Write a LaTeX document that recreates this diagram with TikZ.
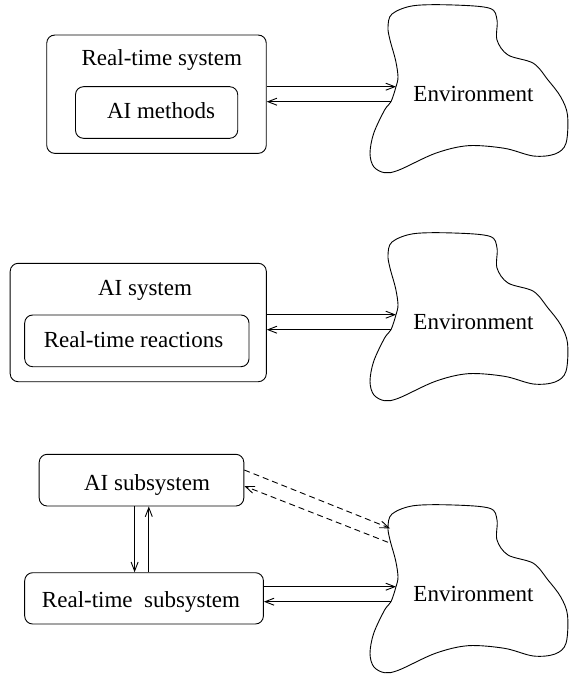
\documentclass[tikz,border=0pt]{standalone}
\usepackage{fontspec}
\setmainfont{Liberation Serif}
\usetikzlibrary{arrows.meta}

\tikzset{
  box/.style={draw, rounded corners=8bp, line width=0.9bp, inner sep=0pt},
  lbl/.style={anchor=base, inner sep=0pt, font=\fontsize{23bp}{28bp}\selectfont},
  flow/.style={line width=0.9bp, -{Straight Barb[length=9bp,width=7bp]}},
  dflow/.style={flow, dash pattern=on 6bp off 4bp},
  cloudline/.style={line width=0.9bp},
}

% outline of the environment blob, drawn in the frame of the top panel
\newcommand{\envblob}{%
  \draw[cloudline] plot[smooth cycle, tension=0.55] coordinates {
    (388,27) (392,14) (413.6,5.7) (453.6,5) (489.8,8.3) (497,20) (497,40)
    (508,55) (533.4,63.3) (548,80) (560.6,96.7) (567.5,115) (566,143.3)
    (555,154) (533.4,156) (504.4,148.3) (468,145.7) (435.4,153.3) (399,170)
    (384.6,172.7) (373.7,166.7) (370,153.3) (373.7,133.3) (384.6,110)
    (391,101.7) (396,86.7) (398,76.7) (395.5,60) (390,40)};
}

\begin{document}
\begin{tikzpicture}[x=1bp, y=-1bp]
  \useasboundingbox (0,0) rectangle (569,675);

  % ---- panel 1: real-time system hosting AI methods
  \envblob
  \node[lbl] (env1) at (473.5,101.7) {Environment};
  \coordinate (e1in) at (396,86.7);
  \coordinate (e1out) at (391,101.7);
  \node[box, minimum width=219.5bp, minimum height=118.3bp] (outer1) at (156.5,94.2) {};
  \node[box, minimum width=162.2bp, minimum height=51.6bp] (inner1) at (156.6,112.5) {};
  \node[lbl] (t1) at (161.8,65.7) {Real-time system};
  \node[lbl] (t1b) at (161,119) {AI methods};
  \draw[flow] (outer1.east |- e1in) -- (e1in);
  \draw[flow] (e1out) -- (outer1.east |- e1out);

  % ---- panel 2: AI system hosting real-time reactions
  \begin{scope}[shift={(0,228)}]
    \envblob
  \end{scope}
  \node[lbl] (env2) at (473.5,329.7) {Environment};
  \coordinate (e2in) at (396,314.7);
  \coordinate (e2out) at (391,329.7);
  \node[box, minimum width=256.1bp, minimum height=118.4bp] (outer2) at (138.25,322.5) {};
  \node[box, minimum width=224.3bp, minimum height=51.7bp] (inner2) at (136.85,340.85) {};
  \node[lbl] (t2) at (145,295.7) {AI system};
  \node[lbl] (t2b) at (133.5,347.3) {Real-time reactions};
  \draw[flow] (outer2.east |- e2in) -- (e2in);
  \draw[flow] (e2out) -- (outer2.east |- e2out);

  % ---- panel 3: separate AI and real-time subsystems
  \begin{scope}[shift={(0,500)}]
    \envblob
  \end{scope}
  \node[lbl] (env3) at (473.5,601.7) {Environment};
  \coordinate (e3in) at (396,586.7);
  \coordinate (e3out) at (391,601.7);
  \coordinate (e3din) at (390,528.3);
  \coordinate (e3dout) at (388,542.3);
  \node[box, minimum width=204.6bp, minimum height=51.7bp] (ai) at (141.5,480.15) {};
  \node[box, minimum width=238.7bp, minimum height=51.3bp] (rt) at (144.05,598.35) {};
  \node[lbl] (t3a) at (147,490) {AI subsystem};
  \node[lbl] (t3b) at (141,607.7) {Real-time\ \ subsystem};
  \coordinate (vdown) at (134.6,0);
  \coordinate (vup) at (148.8,0);
  \draw[flow] (ai.south -| vdown) -- (rt.north -| vdown);
  \draw[flow] (rt.north -| vup) -- (ai.south -| vup);
  \draw[flow] (rt.east |- e3in) -- (e3in);
  \draw[flow] (e3out) -- (rt.east |- e3out);
  \coordinate (adout) at (0,470);
  \coordinate (adin) at (0,486);
  \draw[dflow] (ai.east |- adout) -- (e3din);
  \draw[dflow] (e3dout) -- (ai.east |- adin);
\end{tikzpicture}
\end{document}
